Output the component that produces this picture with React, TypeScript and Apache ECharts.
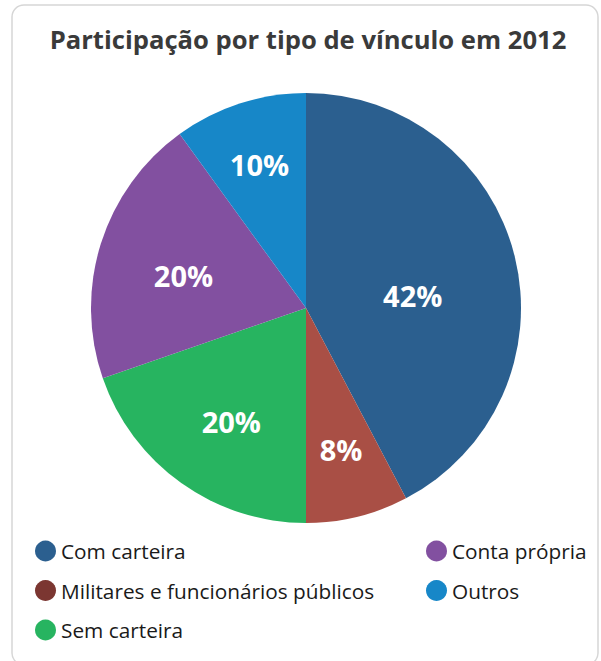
import React, { useEffect, useRef } from "react";
import * as echarts from "echarts";

const categories = ["Com carteira", "Militares e funcionários públicos", "Sem carteira", "Conta própria", "Outros"];
const values = [42.3, 7.7, 19.7, 20.3, 10.0];
const sliceColors = ["#2B5F8F", "#A94F45", "#27B460", "#8250A0", "#1787C8"];
const legendColors = ["#2B5F8F", "#7B3631", "#27B460", "#8250A0", "#1787C8"];
const labelRadiusFrac = [0.5, 0.68, 0.63, 0.59, 0.7];
const labelAngleShift = [7, 0, -2, -2.5, 0];
const legendLeftColumn = ["Com carteira", "Militares e funcionários públicos", "Sem carteira"];
const legendRightColumn = ["Conta própria", "Outros"];

const CX = 306;
const CY = 308;
const R = 215;

export default function App() {
  const ref = useRef<HTMLDivElement>(null);
  useEffect(() => {
    document.body.style.margin = "0";
    if (!ref.current) return;
    const chart = echarts.init(ref.current, undefined, { renderer: "svg" });
    const total = values.reduce((a, b) => a + b, 0);
    const mids: number[] = [];
    let acc = 0;
    values.forEach((v) => {
      mids.push(((acc + v / 2) / total) * 360);
      acc += v;
    });
    const legendData = (names: string[]) =>
      names.map((n) => ({ name: n, itemStyle: { color: legendColors[categories.indexOf(n)] } }));
    const legendCommon = {
      orient: "vertical" as const,
      icon: "circle",
      itemWidth: 21,
      itemHeight: 21,
      itemGap: 18.5,
      top: 535.5,
      textStyle: { fontFamily: "Open Sans", fontSize: 20.8, lineHeight: 21, color: "#1a1a1a", padding: [0, 0, 0, 0] },
    };
    chart.setOption({
      animation: false,
      backgroundColor: "#ffffff",
      graphic: [
        {
          type: "rect",
          shape: { x: 12, y: 5, width: 586, height: 660, r: 12 },
          style: { fill: "none", stroke: "#d6d6d6", lineWidth: 1.5 },
          z: -1,
        },
      ],
      title: {
        text: "Participação por tipo de vínculo em 2012",
        left: 303,
        textAlign: "center",
        top: 21,
        textStyle: { fontFamily: "Open Sans", fontWeight: "bold", fontSize: 25.6, color: "#3a3a3a" },
      },
      legend: [
        { ...legendCommon, left: 30, data: legendData(legendLeftColumn) },
        { ...legendCommon, left: 421, data: legendData(legendRightColumn) },
      ],
      series: [
        {
          type: "pie",
          center: [CX, CY],
          radius: R,
          startAngle: 90,
          clockwise: true,
          percentPrecision: 0,
          label: {
            show: true,
            position: "inside",
            formatter: "{d}%",
            color: "#ffffff",
            fontFamily: "Open Sans",
            fontWeight: "bold",
            fontSize: 29,
          },
          labelLine: { show: false },
          labelLayout: (params: any) => {
            const i = params.dataIndex;
            const a = ((mids[i] + labelAngleShift[i]) * Math.PI) / 180;
            const f = labelRadiusFrac[i];
            return {
              x: CX + f * R * Math.sin(a),
              y: CY - f * R * Math.cos(a),
              align: "center",
              verticalAlign: "middle",
            };
          },
          emphasis: { disabled: true },
          data: categories.map((c, i) => ({
            name: c,
            value: values[i],
            itemStyle: { color: sliceColors[i] },
          })),
        },
      ],
    });
    return () => chart.dispose();
  }, []);
  return <div ref={ref} style={{ width: 601, height: 661 }} />;
}
